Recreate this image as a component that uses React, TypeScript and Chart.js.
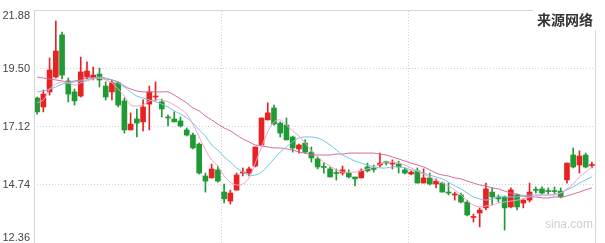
import React, { useEffect, useRef } from 'react';
import { Chart, registerables } from 'chart.js';

Chart.register(...registerables);

// ---- data ----
const OPEN = [18.31,17.94,18.56,19.17,20.90,19.01,18.56,18.39,19.17,19.13,
19.29,18.80,18.56,18.93,18.19,17.00,17.45,17.33,18.06,18.35,
18.15,17.53,17.45,17.37,17.00,16.79,16.42,15.11,15.03,15.36,
14.45,14.08,14.53,15.23,15.23,15.52,16.38,17.41,17.90,17.28,
17.20,16.71,16.22,16.46,16.09,15.81,15.50,15.40,15.25,15.23,
15.23,15.07,15.03,15.48,15.42,15.56,15.70,15.60,15.60,15.36,
15.19,15.32,14.82,15.03,14.78,14.82,14.43,14.33,14.33,14.04,
13.41,13.59,13.80,14.45,14.25,14.25,13.84,14.33,14.00,14.12,
14.56,14.58,14.51,14.51,14.49,14.95,15.97,15.56,15.97,15.54];

const CLOSE = [17.74,18.47,19.46,20.24,19.25,18.47,18.19,19.38,19.42,19.25,
19.05,18.35,18.93,18.02,17.00,17.24,17.28,17.94,18.56,18.39,
17.86,17.49,17.33,17.16,16.79,16.26,15.23,14.90,15.40,14.90,
14.17,14.41,15.15,15.27,15.40,16.30,17.49,17.70,17.24,16.87,
16.59,16.26,16.38,16.09,15.85,15.48,15.46,15.07,15.21,15.36,
15.07,14.99,15.32,15.32,15.38,15.64,15.64,15.64,15.48,15.23,
15.27,14.82,15.03,14.78,14.90,14.45,14.41,14.37,14.04,13.51,
13.45,13.71,14.58,14.25,14.17,13.80,14.54,13.84,14.12,14.45,
14.52,14.41,14.47,14.47,14.25,15.64,15.48,15.93,15.48,15.58];

const HIGH = [18.35,18.64,19.95,21.47,21.02,19.13,18.68,19.99,19.79,19.58,
19.54,18.97,19.05,18.97,18.31,17.70,17.86,18.23,18.80,18.97,
18.27,17.61,17.74,17.53,17.08,16.87,16.46,15.23,15.60,15.52,
14.78,14.53,15.23,15.44,15.48,16.30,17.49,18.11,18.02,17.33,
17.49,16.75,16.42,16.59,16.30,15.89,15.64,15.48,15.40,15.52,
15.36,15.07,15.40,15.64,15.56,16.05,15.72,15.77,15.72,15.44,
15.32,15.44,15.40,15.23,14.99,14.86,14.82,14.45,14.41,14.12,
13.55,13.80,14.82,14.62,14.33,14.29,14.62,14.37,14.17,14.82,
14.66,14.66,14.62,14.66,14.62,15.64,16.26,16.14,16.05,15.68];

const LOW = [17.65,17.74,18.43,19.13,19.09,18.15,18.02,18.35,19.09,19.05,
18.76,18.23,18.23,17.94,16.87,17.00,16.71,16.96,17.00,18.19,
17.53,17.16,17.33,17.12,16.75,16.22,15.19,14.45,15.03,14.86,
14.00,13.96,14.53,15.11,15.11,15.48,16.38,17.41,17.20,16.71,
16.59,16.09,16.05,16.05,15.68,15.40,15.23,15.07,14.94,15.15,
15.03,14.70,15.03,15.27,15.27,15.48,15.56,15.40,15.23,15.19,
15.15,14.82,14.82,14.74,14.62,14.45,14.33,14.12,14.00,13.47,
13.22,13.02,13.72,13.92,14.04,12.89,13.80,13.72,13.80,14.04,
14.41,14.37,14.37,14.37,14.21,14.82,15.44,15.23,15.44,15.44];

const MA_SHORT = [18.11,18.23,18.68,18.88,18.97,18.93,18.84,18.93,19.01,19.09,
19.13,19.05,18.93,18.68,18.39,18.02,17.98,18.02,18.19,18.23,
18.23,18.15,18.02,17.86,17.65,17.24,16.71,16.18,15.77,15.52,
15.11,14.86,14.74,14.78,15.03,15.64,16.30,16.92,17.33,17.41,
17.20,16.96,16.75,16.46,16.14,15.89,15.68,15.52,15.36,15.27,
15.27,15.27,15.32,15.40,15.48,15.60,15.68,15.68,15.64,15.56,
15.44,15.32,15.19,15.07,14.94,14.82,14.70,14.54,14.33,14.08,
13.92,13.84,13.88,13.92,14.00,14.04,14.08,14.12,14.17,14.25,
14.29,14.33,14.33,14.37,14.41,14.58,14.78,15.07,15.27,15.48];

const MA_MID = [18.56,18.60,18.68,18.76,18.88,18.93,18.97,19.01,19.05,19.13,
19.17,19.13,19.05,18.93,18.76,18.56,18.39,18.31,18.23,18.15,
18.06,17.94,17.78,17.65,17.49,17.28,17.00,16.75,16.38,16.18,
15.89,15.68,15.44,15.27,15.15,15.15,15.27,15.52,15.81,16.09,
16.30,16.51,16.67,16.71,16.71,16.67,16.55,16.38,16.18,15.97,
15.85,15.72,15.64,15.56,15.48,15.44,15.44,15.48,15.48,15.44,
15.36,15.31,15.23,15.15,15.07,14.99,14.86,14.70,14.58,14.41,
14.25,14.17,14.12,14.17,14.25,14.25,14.25,14.25,14.29,14.33,
14.33,14.33,14.33,14.33,14.41,14.54,14.66,14.82,14.95,15.07];

const MA_LONG = [19.17,19.13,19.09,19.05,19.01,18.97,19.01,19.05,19.13,19.13,
19.13,19.09,19.05,18.97,18.80,18.68,18.60,18.56,18.56,18.56,
18.56,18.56,18.43,18.27,18.11,17.90,17.78,17.57,17.41,17.24,
17.08,16.96,16.79,16.63,16.51,16.38,16.34,16.30,16.26,16.26,
16.22,16.18,16.09,16.05,15.97,15.97,15.97,15.97,16.01,16.01,
16.05,16.05,16.05,16.05,16.05,16.01,15.97,15.89,15.81,15.72,
15.64,15.56,15.48,15.36,15.23,15.15,15.11,15.03,14.99,14.90,
14.82,14.74,14.70,14.62,14.58,14.49,14.41,14.37,14.29,14.25,
14.25,14.21,14.21,14.25,14.25,14.29,14.37,14.45,14.54,14.62];

const Y_TICKS = [12.36, 14.74, 17.12, 19.50, 21.88];
const GRID_EVERY = 30;
const SOURCE_LABEL = '来源网络';
const WATERMARK = 'sina.com';
const LABELS = OPEN.map((_, i) => String(i + 1));

const UP = '#e62222';
const DOWN = '#1f9a34';
const GRID = '#d2d2d2';
const FRAME = '#d6d6d6';

const framePlugin = {
  id: 'frame',
  beforeDatasetsDraw(chart: any) {
    const { ctx } = chart;
    ctx.save();
    ctx.fillStyle = '#d0d0d0';
    ctx.font = "12px 'Liberation Sans Narrow', 'Liberation Sans', Arial, sans-serif";
    ctx.textAlign = 'left';
    ctx.textBaseline = 'alphabetic';
    ctx.fillText(WATERMARK, 545, 228);
    ctx.restore();
  },
  afterDraw(chart: any) {
    const { ctx, chartArea: a, scales } = chart;
    ctx.save();
    ctx.strokeStyle = FRAME;
    ctx.lineWidth = 1;
    ctx.setLineDash([]);
    ctx.beginPath();
    ctx.moveTo(Math.round(a.left) + 0.5, Math.round(a.top) - 0.5);
    ctx.lineTo(Math.round(a.left) + 0.5, a.bottom);
    ctx.moveTo(a.left, Math.round(a.top) - 0.5);
    ctx.lineTo(533, Math.round(a.top) - 0.5);
    ctx.moveTo(Math.round(a.right) + 0.5, 30);
    ctx.lineTo(Math.round(a.right) + 0.5, a.bottom);
    ctx.stroke();

    ctx.fillStyle = '#333';
    ctx.font = "bold 14px 'Noto Sans CJK SC', sans-serif";
    ctx.textAlign = 'right';
    ctx.textBaseline = 'middle';
    ctx.fillText(SOURCE_LABEL, 593, 20);

    ctx.font = "11px 'Liberation Sans', Arial, sans-serif";
    ctx.fillStyle = '#444';
    ctx.textAlign = 'right';
    ctx.textBaseline = 'middle';
    Y_TICKS.forEach((v) => {
      const y = scales.y.getPixelForValue(v);
      const yy = Math.min(Math.max(y, 16), 238);
      ctx.fillText(v.toFixed(2), 30, yy);
    });
    ctx.restore();
  },
};

export default function App() {
  const ref = useRef<HTMLCanvasElement | null>(null);

  useEffect(() => {
    document.body.style.margin = '0';
    const canvas = ref.current;
    if (!canvas) return;
    const colors = OPEN.map((o, i) => (CLOSE[i] >= o ? UP : DOWN));
    const chart = new Chart(canvas, {
      type: 'bar',
      data: {
        labels: LABELS,
        datasets: [
          {
            type: 'line',
            label: 'MA5',
            data: MA_SHORT,
            borderColor: '#f3a2c6',
            borderWidth: 1,
            pointRadius: 0,
            tension: 0.35,
            order: 1,
          } as any,
          {
            type: 'line',
            label: 'MA10',
            data: MA_MID,
            borderColor: '#6fc6e2',
            borderWidth: 1,
            pointRadius: 0,
            tension: 0.35,
            order: 1,
          } as any,
          {
            type: 'line',
            label: 'MA20',
            data: MA_LONG,
            borderColor: '#d6689c',
            borderWidth: 1,
            pointRadius: 0,
            tension: 0.35,
            order: 1,
          } as any,
          {
            type: 'bar',
            label: 'body',
            data: OPEN.map((o, i) => [o, CLOSE[i]]),
            backgroundColor: colors,
            barThickness: 5,
            minBarLength: 1,
            grouped: false,
            order: 2,
          } as any,
          {
            type: 'bar',
            label: 'wick',
            data: LOW.map((l, i) => [l, HIGH[i]]),
            backgroundColor: colors,
            barThickness: 1,
            grouped: false,
            order: 3,
          } as any,
        ],
      },
      options: {
        responsive: false,
        animation: false,
        layout: { padding: { left: 34, right: 10, top: 11, bottom: 0 } },
        plugins: { legend: { display: false }, tooltip: { enabled: false }, title: { display: false } },
        scales: {
          x: {
            type: 'category',
            offset: true,
            ticks: { display: false, autoSkip: false },
            grid: {
              offset: true,
              drawTicks: false,
              color: (c: any) =>
                c.index > 0 && c.index < LABELS.length && c.index % GRID_EVERY === 0 ? GRID : 'rgba(0,0,0,0)',
            },
            border: { display: false, dash: [1, 2] },
          },
          y: {
            min: Y_TICKS[0],
            max: Y_TICKS[Y_TICKS.length - 1],
            afterBuildTicks: (s: any) => {
              s.ticks = Y_TICKS.map((v) => ({ value: v }));
            },
            ticks: { display: false },
            grid: {
              drawTicks: false,
              color: (c: any) =>
                c.tick && (c.tick.value === Y_TICKS[0] || c.tick.value === Y_TICKS[Y_TICKS.length - 1])
                  ? 'rgba(0,0,0,0)'
                  : GRID,
            },
            border: { display: false, dash: [1, 2] },
          },
        },
      } as any,
      plugins: [framePlugin],
    });
    return () => chart.destroy();
  }, []);

  return (
    <div style={{ width: 605, height: 243 }}>
      <canvas ref={ref} width={605} height={243} style={{ display: 'block' }} />
    </div>
  );
}
